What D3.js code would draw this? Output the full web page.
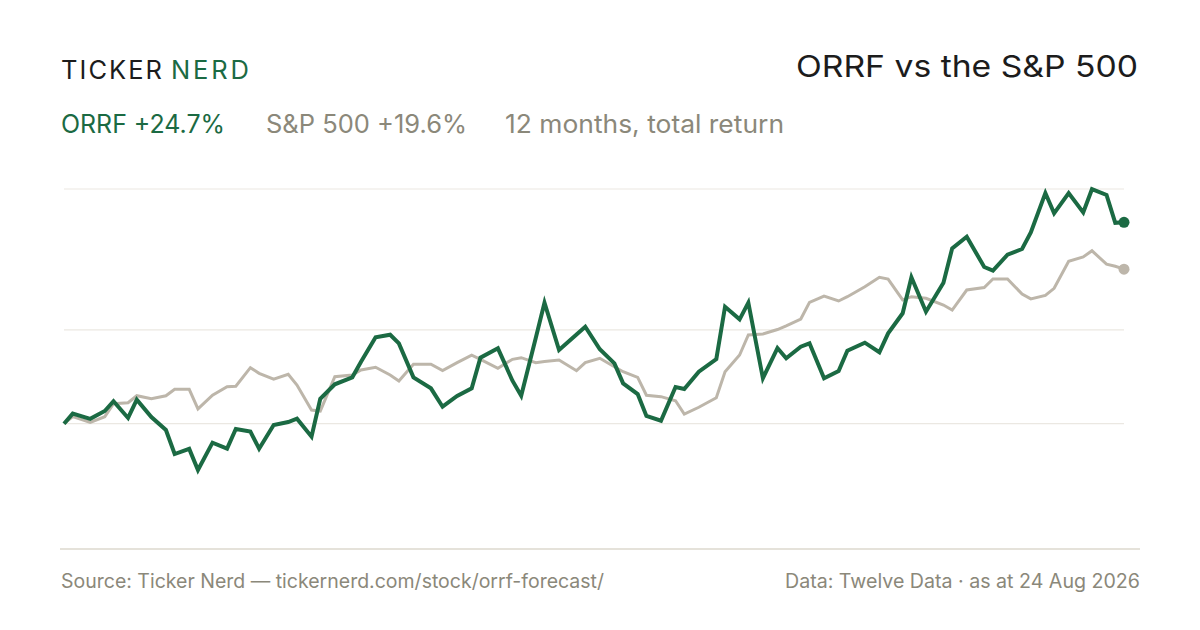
<!DOCTYPE html>
<html>
<head>
<meta charset="utf-8">
<script src="https://cdn.jsdelivr.net/npm/d3@7"></script>
<style>
  html, body { margin: 0; padding: 0; background: #fff; }
  svg { display: block; font-family: Inter, "Noto Sans", sans-serif; }
</style>
</head>
<body>
<svg id="chart"></svg>
<script>
// Sample dates (every 3rd trading day) and returns in % since the start
const dates = [
  "2025-08-25","2025-08-28","2025-09-03","2025-09-08","2025-09-11","2025-09-16","2025-09-19","2025-09-24","2025-09-29",
  "2025-10-02","2025-10-07","2025-10-10","2025-10-15","2025-10-20","2025-10-23","2025-10-28","2025-10-31",
  "2025-11-05","2025-11-10","2025-11-13","2025-11-18","2025-11-21","2025-11-26",
  "2025-12-02","2025-12-05","2025-12-10","2025-12-15","2025-12-18","2025-12-23","2025-12-29",
  "2026-01-02","2026-01-07","2026-01-12","2026-01-15","2026-01-21","2026-01-26","2026-01-29",
  "2026-02-03","2026-02-06","2026-02-11","2026-02-17","2026-02-20","2026-02-25",
  "2026-03-02","2026-03-05","2026-03-10","2026-03-13","2026-03-18","2026-03-23","2026-03-26","2026-03-31",
  "2026-04-06","2026-04-09","2026-04-14","2026-04-17","2026-04-22","2026-04-27","2026-04-30",
  "2026-05-05","2026-05-08","2026-05-13","2026-05-18","2026-05-21","2026-05-27",
  "2026-06-01","2026-06-04","2026-06-09","2026-06-12","2026-06-17","2026-06-23","2026-06-26",
  "2026-07-01","2026-07-07","2026-07-10","2026-07-15","2026-07-20","2026-07-23","2026-07-28","2026-07-31",
  "2026-08-05","2026-08-10","2026-08-13","2026-08-18","2026-08-21","2026-08-24"
];

const orrf = [
  0, 1.07, 0.52, 1.35, 2.40, 0.61, 2.56, 0.71, -0.67,
  -3.23, -2.68, -4.93, -2.02, -2.66, -0.56, -0.83, -2.66,
  -0.14, 0.18, 0.53, -1.38, 2.66, 4.20,
  4.94, 6.60, 9.20, 9.48, 8.56, 4.94, 3.77,
  1.81, 2.95, 3.77, 7.03, 8.03, 4.58, 2.98,
  9.13, 12.89, 7.85, 9.51, 10.33, 7.93,
  6.43, 4.30, 3.16, 0.82, 0.32, 3.91, 3.70, 5.54,
  6.89, 12.46, 11.12, 12.89, 4.84, 8.06, 6.97,
  8.20, 8.56, 4.84, 5.61, 7.78, 8.63,
  7.61, 9.63, 11.76, 15.59, 11.93, 15.02, 18.68,
  19.92, 16.69, 16.30, 18.00, 18.61, 20.37, 24.57, 22.41,
  24.57, 22.50, 24.98, 24.36, 21.40, 21.45
];

const spx = [
  0, 0.75, 0.15, 0.75, 2.13, 2.23, 2.98, 2.65, 2.97,
  3.67, 3.66, 1.57, 3.04, 3.94, 3.99, 5.97, 5.37,
  4.75, 5.26, 4.12, 1.46, 1.35, 5.01,
  5.19, 5.72, 6.01, 5.19, 4.55, 6.33, 6.33,
  5.65, 6.50, 7.29, 6.86, 5.90, 6.86, 7.03,
  6.50, 6.63, 6.79, 5.65, 6.50, 6.97,
  6.07, 5.54, 4.94, 3.03, 2.88, 2.45, 1.03, 1.75,
  2.77, 5.54, 7.32, 9.45, 9.55, 10.03, 10.41,
  11.15, 12.93, 13.60, 13.07, 13.53, 14.59,
  15.59, 15.41, 13.18, 13.53, 13.36, 12.64, 12.11,
  14.24, 14.51, 15.41, 15.41, 13.82, 13.30, 13.66, 14.42,
  17.30, 17.76, 18.42, 16.99, 16.77, 16.46
];

const gridValues = [0, 10, 25];
const yDomain = [-13.24, 25];

const headline = ["ORRF +24.7%", "S&P 500 +19.6%", "12 months, total return"];

const W = 1200, H = 630;
const GREEN = "#1b6a43", GREY = "#bdb6aa", MUTED = "#8b887a", INK = "#1c1c1c";

const svg = d3.select("#chart").attr("width", W).attr("height", H);

const parse = d3.timeParse("%Y-%m-%d");
const orrfData = dates.map((d, i) => ({ date: parse(d), value: orrf[i] }));
const spxData = dates.map((d, i) => ({ date: parse(d), value: spx[i] }));

const x = d3.scaleTime()
  .domain(d3.extent(orrfData, d => d.date))
  .range([64, 1124]);

const y = d3.scaleLinear()
  .domain(yDomain)
  .range([548, 189]);

// small helper: text stretched to the width it has in the layout
function label(g, txt, tx, ty, size, color, len, adjust) {
  return g.append("text")
    .attr("x", tx).attr("y", ty)
    .attr("fill", color)
    .attr("textLength", len)
    .attr("lengthAdjust", adjust || "spacingAndGlyphs")
    .style("font-size", size + "px")
    .text(txt);
}

// Header
label(svg, "TICKER", 61, 79, 25.5, INK, 101, "spacing");
label(svg, "NERD", 171, 79, 25.5, GREEN, 78, "spacing");
label(svg, "ORRF vs the S&P 500", 796, 77, 30, INK, 342);

const headX = [61, 266, 505];
const headW = [164, 201, 279];
const headC = [GREEN, MUTED, MUTED];
headline.forEach((t, i) => label(svg, t, headX[i], 133, 25, headC[i], headW[i]));

// Gridlines
svg.append("g").attr("class", "grid")
  .selectAll("line")
  .data(gridValues)
  .join("line")
  .attr("x1", 64).attr("x2", 1124)
  .attr("y1", d => y(d)).attr("y2", d => y(d))
  .attr("stroke", "#ebe8e2")
  .attr("stroke-width", 1.2);

// Baseline
svg.append("line")
  .attr("x1", 60).attr("x2", 1140)
  .attr("y1", 549).attr("y2", 549)
  .attr("stroke", "#dcd8ce")
  .attr("stroke-width", 1.5);

const line = d3.line()
  .x(d => x(d.date))
  .y(d => y(d.value));

svg.append("path")
  .datum(spxData)
  .attr("fill", "none")
  .attr("stroke", GREY)
  .attr("stroke-width", 3)
  .attr("d", line);

svg.append("path")
  .datum(orrfData)
  .attr("fill", "none")
  .attr("stroke", GREEN)
  .attr("stroke-width", 4)
  .attr("d", line);

// End dots
const lastS = spxData[spxData.length - 1];
const lastO = orrfData[orrfData.length - 1];
svg.append("circle")
  .attr("cx", x(lastS.date)).attr("cy", y(lastS.value))
  .attr("r", 5.5).attr("fill", GREY);
svg.append("circle")
  .attr("cx", x(lastO.date)).attr("cy", y(lastO.value))
  .attr("r", 5.5).attr("fill", GREEN);

// Footer
label(svg, "Source: Ticker Nerd — tickernerd.com/stock/orrf-forecast/", 61, 587.5, 19.5, MUTED, 543);
label(svg, "Data: Twelve Data · as at 24 Aug 2026", 785, 587.5, 19.5, MUTED, 355);
</script>
</body>
</html>
